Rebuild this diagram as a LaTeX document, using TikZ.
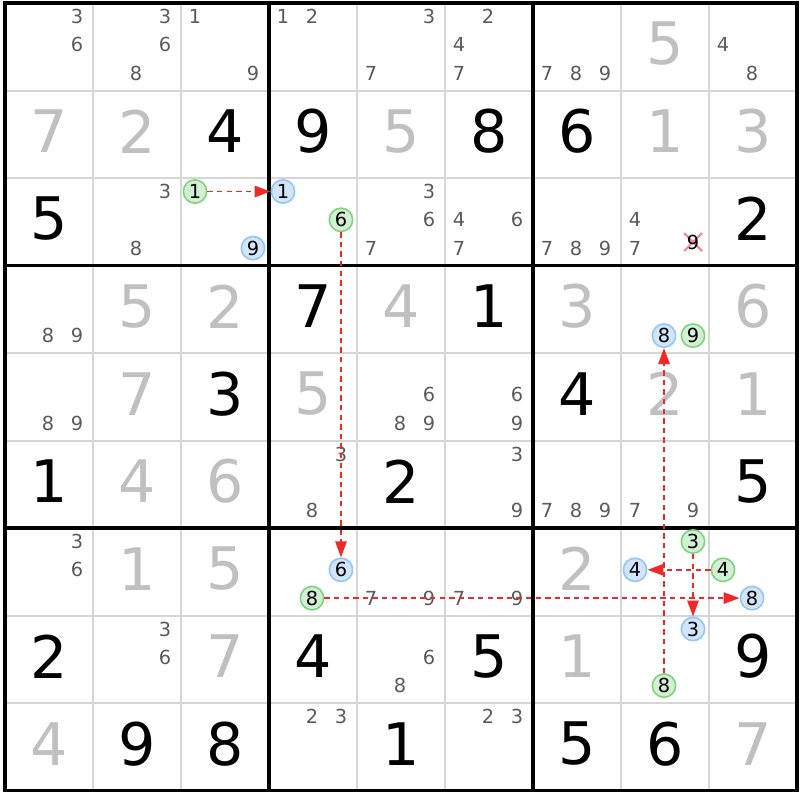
\documentclass[tikz,border=0pt]{standalone}
\usepackage{fontspec}
\setmainfont{DejaVu Sans}
\usetikzlibrary{arrows.meta}

\definecolor{pencil}{RGB}{90,90,90}
\definecolor{solvedgray}{RGB}{192,192,192}
\definecolor{thingrid}{RGB}{214,214,214}
\definecolor{ongreen}{RGB}{125,212,125}
\definecolor{ongreenfill}{RGB}{212,240,212}
\definecolor{offblue}{RGB}{145,198,245}
\definecolor{offbluefill}{RGB}{210,229,250}
\definecolor{linkred}{RGB}{240,40,40}
\definecolor{crosspink}{RGB}{240,140,150}

\tikzset{
  given/.style={font=\fontsize{44}{44}\selectfont, inner sep=0pt},
  solved/.style={given, text=solvedgray},
  pmark/.style={font=\fontsize{14.5}{14.5}\selectfont, text=pencil, inner sep=0pt},
  candon/.style={circle, draw=ongreen, fill=ongreenfill, line width=1.2pt, minimum size=17.5pt, inner sep=0pt, font=\fontsize{14.5}{14.5}\selectfont},
  candoff/.style={candon, draw=offblue, fill=offbluefill},
  link/.style={draw=linkred, line width=1.4pt, dash pattern=on 4pt off 3.2pt, -{Triangle[length=12pt,width=8.5pt]}}
}

\begin{document}
\begin{tikzpicture}[x=0.75pt,y=0.75pt,yscale=-1,xscale=1]
\useasboundingbox (0,0) rectangle (800,800);

% thin cell lines
\foreach \i in {1,2,4,5,7,8} {
  \draw[thingrid, line width=1.5pt] ({5+88*\i},3) -- ({5+88*\i},790.5);
  \draw[thingrid, line width=1.5pt] (5,{3+87.5*\i}) -- (797,{3+87.5*\i});
}
% box lines
\foreach \i in {3,6} {
  \draw[line width=2.3pt] ({5+88*\i},3) -- ({5+88*\i},790.5);
  \draw[line width=2.3pt] (5,{3+87.5*\i}) -- (797,{3+87.5*\i});
}
\draw[line width=2.3pt] (5,3) rectangle (797,790.5);

% givens
\foreach \r/\c/\d in {1/2/4, 1/3/9, 1/5/8, 1/6/6, 2/0/5, 2/8/2, 3/3/7, 3/5/1, 4/2/3, 4/6/4, 5/0/1, 5/4/2, 5/8/5, 7/0/2, 7/3/4, 7/5/5, 7/8/9, 8/1/9, 8/2/8, 8/4/1, 8/6/5, 8/7/6}
  \node[given] (v-\r-\c) at ({49+88*\c},{43.75+87.5*\r}) {\d};
% solved values
\foreach \r/\c/\d in {0/7/5, 1/0/7, 1/1/2, 1/4/5, 1/7/1, 1/8/3, 3/1/5, 3/2/2, 3/4/4, 3/6/3, 3/8/6, 4/1/7, 4/3/5, 4/7/2, 4/8/1, 5/1/4, 5/2/6, 6/1/1, 6/2/5, 6/6/2, 7/2/7, 7/6/1, 8/0/4, 8/8/7}
  \node[solved] (v-\r-\c) at ({49+88*\c},{43.75+87.5*\r}) {\d};

% pencil marks
\foreach \r/\c/\ds in {0/0/{3,6}, 0/1/{3,6,8}, 0/2/{1,9}, 0/3/{1,2}, 0/4/{3,7}, 0/5/{2,4,7}, 0/6/{7,8,9}, 0/8/{4,8},
    2/1/{3,8}, 2/4/{3,6,7}, 2/5/{4,6,7}, 2/6/{7,8,9}, 2/7/{4,7},
    3/0/{8,9}, 4/0/{8,9}, 4/4/{6,8,9}, 4/5/{6,9},
    5/3/{3,8}, 5/5/{3,9}, 5/6/{7,8,9}, 5/7/{7,9},
    6/0/{3,6}, 6/4/{7,9}, 6/5/{7,9}, 7/1/{3,6}, 7/4/{6,8}, 8/3/{2,3}, 8/5/{2,3}}
  \foreach \d in \ds {
    \pgfmathsetmacro\px{5+88*\c+14+29*mod(\d-1,3)}
    \pgfmathsetmacro\py{3+87.5*\r+13.5+28.3*floor((\d-1)/3)}
    \node[pmark] (p-\r-\c-\d) at (\px,\py) {\d};
  }

% eliminated candidate
\draw[crosspink, line width=1.6pt] (684,233) -- (702,251) (684,251) -- (702,233);
\node[pmark, text=black] (x-2-7-9) at (693,242) {9};

% chain candidates
\foreach \r/\c/\d in {2/2/1, 2/3/6, 3/7/9, 6/3/8, 6/7/3, 6/8/4, 7/7/8} {
  \pgfmathsetmacro\px{5+88*\c+14+29*mod(\d-1,3)}
  \pgfmathsetmacro\py{3+87.5*\r+13.5+28.3*floor((\d-1)/3)}
  \node[candon] (on-\r-\c-\d) at (\px,\py) {\d};
}
\foreach \r/\c/\d in {2/2/9, 2/3/1, 3/7/8, 6/3/6, 6/7/4, 6/8/8, 7/7/3} {
  \pgfmathsetmacro\px{5+88*\c+14+29*mod(\d-1,3)}
  \pgfmathsetmacro\py{3+87.5*\r+13.5+28.3*floor((\d-1)/3)}
  \node[candoff] (off-\r-\c-\d) at (\px,\py) {\d};
}

% links
\draw[link] (on-2-2-1) -- (off-2-3-1);
\draw[link] (on-2-3-6) -- (off-6-3-6);
\draw[link] (on-6-3-8) -- (off-6-8-8);
\draw[link] (on-7-7-8) -- (off-3-7-8);
\draw[link] (on-6-8-4) -- (off-6-7-4);
\draw[link] (on-6-7-3) -- (off-7-7-3);

\end{tikzpicture}
\end{document}
